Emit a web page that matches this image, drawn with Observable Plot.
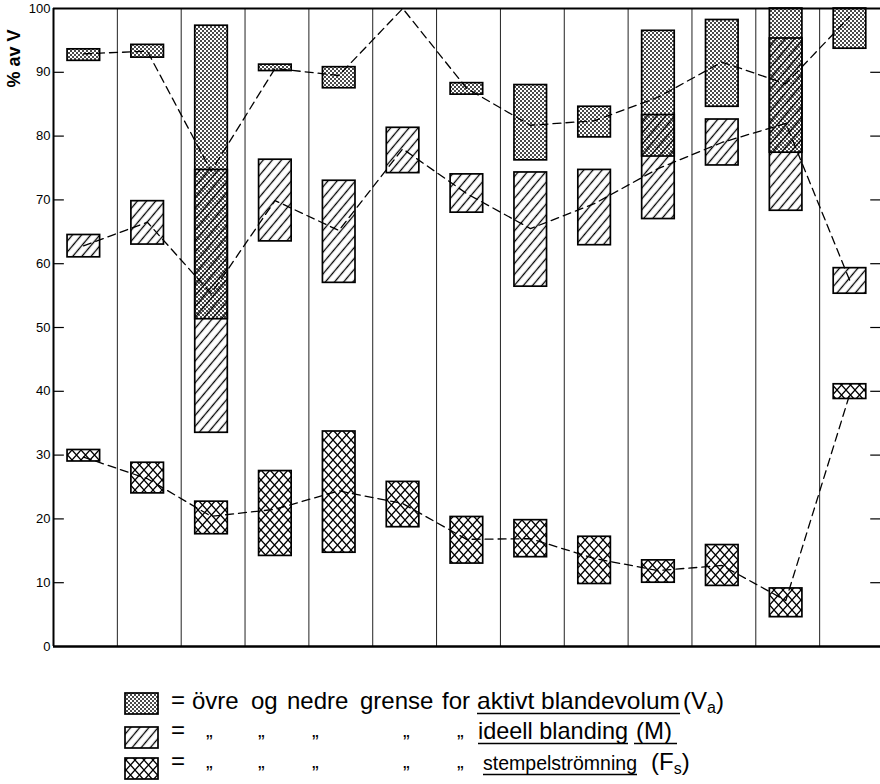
<!DOCTYPE html>
<html><head><meta charset="utf-8">
<script src="https://cdn.jsdelivr.net/npm/d3@7"></script>
<script src="https://cdn.jsdelivr.net/npm/@observablehq/plot@0.6"></script>
<style>
html,body{margin:0;padding:0;background:#fff;overflow:hidden;width:880px;height:784px}
#chart svg{display:block;overflow:hidden}
#legend{display:block}
</style></head><body>
<svg width="0" height="0" style="position:absolute">
<defs>
<pattern id="stipple" patternUnits="userSpaceOnUse" width="4" height="4">
 <rect width="4" height="4" fill="#fff"/>
 <rect width="2" height="2" fill="#4a4a4a"/>
 <rect x="2" y="2" width="2" height="2" fill="#4a4a4a"/>
</pattern>
<pattern id="hatch" patternUnits="userSpaceOnUse" width="7" height="7" patternTransform="rotate(40)">
 <line x1="3.5" y1="-1" x2="3.5" y2="8" stroke="#000" stroke-width="1.3"/>
</pattern>
<pattern id="cross" patternUnits="userSpaceOnUse" width="9" height="10">
 <path d="M-1,-1.11L10,11.11M10,-1.11L-1,11.11" stroke="#000" stroke-width="1.3" fill="none"/>
</pattern>
</defs>
</svg>
<div id="chart"></div>
<svg id="legend" width="880" height="124"></svg>
<script>
// ---- data ----
const columns = ["1","2","3","4","5","6","7","8","9","10","11","12","13"];
const vaLow  = [91.8, 92.3, 51.3, 90.2, 87.5, null, 86.5, 76.2, 79.8, 76.8, 84.6, 77.4, 93.7];
const vaHigh = [93.6, 94.3, 97.3, 91.2, 90.8, null, 88.3, 88.0, 84.6, 96.5, 98.2, 100, 100];
const vaLine = [92.9, 93.3, 74.5, 90.6, 89.5, 100, 87.5, 81.7, 82.4, 86.1, 91.6, 88.2, 98.7];
const mLow   = [61.0, 63.0, 33.5, 63.5, 57.0, 74.2, 68.0, 56.4, 62.9, 67.0, 75.4, 68.3, 55.3];
const mHigh  = [64.5, 69.8, 74.7, 76.3, 73.0, 81.3, 74.0, 74.3, 74.7, 83.3, 82.6, 95.3, 59.3];
const mLine  = [62.8, 66.5, 55.3, 69.9, 65.2, 78.0, 71.0, 65.5, 69.4, 74.9, 79.0, 82.0, 57.4];
const fsLow  = [29.0, 24.0, 17.6, 14.2, 14.7, 18.7, 13.0, 14.0, 9.8, 10.0, 9.5, 4.6, 38.8];
const fsHigh = [30.8, 28.8, 22.7, 27.5, 33.7, 25.8, 20.3, 19.8, 17.2, 13.5, 15.9, 9.1, 41.1];
const fsLine = [29.7, 26.3, 20.4, 21.5, 24.4, 22.4, 16.8, 16.9, 13.8, 11.9, 12.7, 7.2, 39.5];
const yTicks = [0, 10, 20, 30, 40, 50, 60, 70, 80, 90, 100];
const innerTicks = [10, 20, 30, 40, 50, 60, 70, 80, 90];
const yLabel = "% av V";

const rows = columns.map((c, i) => ({
  c, i,
  vaLow: vaLow[i], vaHigh: vaHigh[i], vaLine: vaLine[i],
  mLow: mLow[i], mHigh: mHigh[i], mLine: mLine[i],
  fsLow: fsLow[i], fsHigh: fsHigh[i], fsLine: fsLine[i]
}));

const bx1 = d => d.i + 0.22, bx2 = d => d.i + 0.73, bxc = d => d.i + 0.47;
const dash = "8,5";

const chart = Plot.plot({
  width: 880, height: 660,
  marginLeft: 53, marginRight: 0, marginTop: 8, marginBottom: 14,
  style: {fontFamily: "'Liberation Sans', Arial, sans-serif", background: "white", color: "black"},
  x: {domain: [0, 13], range: [53, 883], axis: null},
  y: {domain: [0, 100], axis: null},
  marks: [
    Plot.ruleX(d3.range(1, 13), {y1: 0, y2: 100, stroke: "#222", strokeWidth: 1}),
    Plot.rect(rows.filter(d => d.vaLow != null), {x1: bx1, x2: bx2, y1: "vaLow", y2: "vaHigh", fill: "url(#stipple)", stroke: "black", strokeWidth: 1.7}),
    Plot.rect(rows, {x1: bx1, x2: bx2, y1: "mLow", y2: "mHigh", fill: "url(#hatch)", stroke: "black", strokeWidth: 1.7}),
    Plot.rect(rows, {x1: bx1, x2: bx2, y1: "fsLow", y2: "fsHigh", fill: "url(#cross)", stroke: "black", strokeWidth: 1.7}),
    Plot.line(rows, {x: bxc, y: "vaLine", stroke: "black", strokeWidth: 1.3, strokeDasharray: dash}),
    Plot.line(rows, {x: bxc, y: "mLine", stroke: "black", strokeWidth: 1.3, strokeDasharray: dash}),
    Plot.line(rows, {x: bxc, y: "fsLine", stroke: "black", strokeWidth: 1.3, strokeDasharray: dash}),
    Plot.ruleY(innerTicks, {x1: 0, x2: 0.17, stroke: "black", strokeWidth: 1.2}),
    Plot.ruleY(innerTicks, {x1: 12.8, x2: 13, stroke: "black", strokeWidth: 1.2}),
    Plot.ruleY([0], {stroke: "black", strokeWidth: 2.5}),
    Plot.ruleY([100], {stroke: "black", strokeWidth: 2}),
    Plot.ruleX([0], {y1: 0, y2: 100, stroke: "black", strokeWidth: 2}),
    Plot.axisY({ticks: yTicks, tickSize: 0, tickPadding: 3, fontSize: 13, tickFormat: d => String(d), label: null}),
    Plot.text([yLabel], {text: d => d, frameAnchor: "top-left", dx: -39, dy: 50, rotate: -90, textAnchor: "middle", lineAnchor: "middle", fontWeight: "bold", fontSize: 18, fill: "black"})
  ]
});
document.getElementById("chart").append(chart);

// ---- legend ----
const legendFills = ["url(#stipple)", "url(#hatch)", "url(#cross)"];
const legendRow1 = ["övre", "og", "nedre", "grense", "for"];
const legendTerms = [["aktivt blandevolum", "V", "a"], ["ideell blanding", "M", ""], ["stempelströmning", "F", "s"]];
const ditto = "\u201E";

const top0 = 660;
const lg = d3.select("#legend").attr("font-family", "'Liberation Sans', Arial, sans-serif").attr("font-size", 24);
const rowBase = [709, 739, 770].map(v => v - top0);
const swY = [693, 727, 758].map(v => v - top0);
legendFills.forEach((f, k) => {
  lg.append("rect").attr("x", 125).attr("y", swY[k]).attr("width", 33).attr("height", 21)
    .attr("fill", f).attr("stroke", "black").attr("stroke-width", 1.7);
  lg.append("text").attr("x", 171).attr("y", rowBase[k] - 1).text("=");
});
// row 1 words
const w1 = [192, 251, 287, 360, 442];
legendRow1.forEach((w, j) => {
  lg.append("text").attr("x", w1[j]).attr("y", rowBase[0]).text(w);
});
// ditto marks rows 2,3
const dx = [206, 258, 312, 403, 457];
[1, 2].forEach(k => dx.forEach(x => {
  lg.append("text").attr("x", x).attr("y", rowBase[k] - 2).attr("font-size", 20).text(ditto);
}));
// terms
const termLayout = [
  {span: [477, 680], size: 24, paren: 683, ul: [[477, 680]]},
  {span: [478, 628], size: 24, paren: 636, ul: [[478, 628], [634, 677]]},
  {span: [483, 637], size: 21, paren: 651, ul: [[483, 637]]}
];
legendTerms.forEach(([term, sym, sub], k) => {
  const L = termLayout[k];
  lg.append("text").attr("x", L.span[0]).attr("y", rowBase[k]).attr("font-size", L.size)
    .attr("textLength", L.span[1] - L.span[0]).attr("lengthAdjust", "spacingAndGlyphs").text(term);
  const t = lg.append("text").attr("x", L.paren).attr("y", rowBase[k]);
  t.append("tspan").text("(" + sym + (sub ? "" : ")"));
  if (sub) {
    t.append("tspan").attr("font-size", 16).attr("dy", 4).text(sub);
    t.append("tspan").attr("dy", -4).text(")");
  }
  L.ul.forEach(([a, b]) => {
    lg.append("line").attr("x1", a).attr("x2", b).attr("y1", rowBase[k] + 4.5).attr("y2", rowBase[k] + 4.5)
      .attr("stroke", "black").attr("stroke-width", 1.4);
  });
});
</script>
</body></html>
